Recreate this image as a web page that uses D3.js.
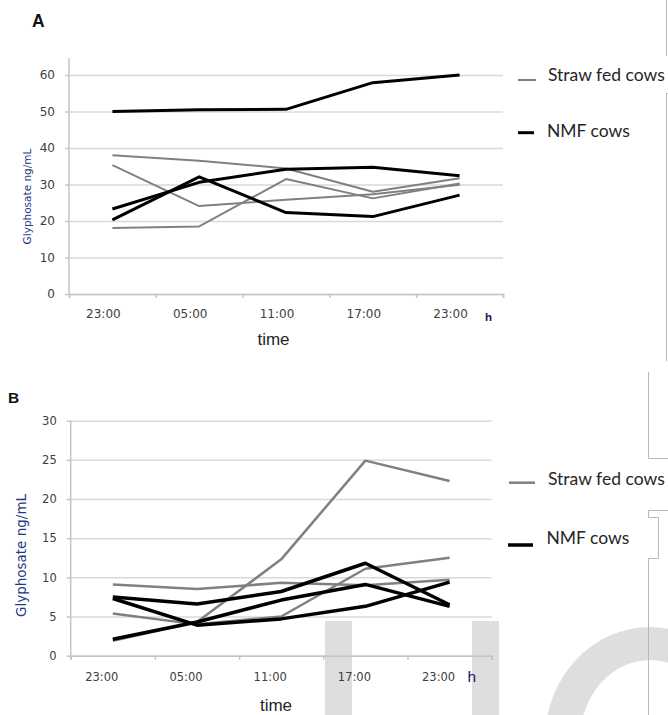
<!DOCTYPE html>
<html>
<head>
<meta charset="utf-8">
<script src="https://cdnjs.cloudflare.com/ajax/libs/d3/7.8.5/d3.min.js"></script>
<style>
	body { margin: 0; background: #fff; }
	svg { display: block; }
</style>
</head>
<body>
<svg id="chart" width="668" height="715"></svg>
<script>
// sampling times, shared by both panels
var timeLabels = ["23:00", "05:00", "11:00", "17:00", "23:00"];
var legendNames = ["Straw fed cows", "NMF cows"];

// panel A, glyphosate ng/mL
var ticksA = [0, 10, 20, 30, 40, 50, 60];
var strawA = [
	[38.0, 36.5, 34.4, 28.0, 31.7],
	[35.3, 24.1, 25.8, 27.3, 29.9],
	[18.1, 18.5, 31.5, 26.2, 30.3]
];
var nmfA = [
	[50.0, 50.5, 50.6, 57.9, 60.0],
	[23.3, 30.6, 34.2, 34.7, 32.4],
	[20.3, 32.1, 22.3, 21.2, 27.1]
];

// panel B, glyphosate ng/mL
var ticksB = [0, 5, 10, 15, 20, 25, 30];
var strawB = [
	[9.1, 8.5, 9.3, 9.0, 9.7],
	[5.4, 4.0, 5.0, 11.1, 12.5],
	[1.9, 4.3, 12.3, 24.9, 22.3]
];
var nmfB = [
	[7.5, 6.6, 8.2, 11.8, 6.5],
	[7.3, 3.9, 4.7, 6.3, 9.4],
	[2.1, 4.3, 7.1, 9.1, 6.3]
];

var svg = d3.select("#chart");

function ellipse(cx, cy, rx, ry) {
	return "M" + (cx - rx) + "," + cy +
		"a" + rx + "," + ry + " 0 1,0 " + (2 * rx) + ",0" +
		"a" + rx + "," + ry + " 0 1,0 " + (-2 * rx) + ",0Z";
}

// faint scan artefacts (watermark + page edges)
var wm = svg.append("g").attr("fill", "#dedede");
wm.append("rect").attr("x", 325).attr("y", 621).attr("width", 27).attr("height", 94);
wm.append("rect").attr("x", 472).attr("y", 621).attr("width", 27).attr("height", 94);
wm.append("path").attr("fill-rule", "evenodd")
	.attr("d", ellipse(650, 740, 105, 113) + ellipse(650, 740, 70, 80));

var edge = svg.append("g").attr("stroke", "#b8b8b8").attr("fill", "none").attr("stroke-width", 1);
edge.append("path").attr("d", "M666.5,0V56 M668,93.5H666.5V361");
edge.append("path").attr("d", "M648.5,372V458.5H668 M668,510.5H648.5V517.5H658.5V558.5H648.5V715");

function drawPanel(p) {
	var n = timeLabels.length;
	var x = d3.scaleBand().domain(d3.range(n)).range([p.x0, p.x1]);
	var xEdge = d3.scaleLinear().domain([0, n]).range([p.x0, p.x1]);
	var y = d3.scaleLinear().domain([0, p.yMax]).range([p.y0, p.y1]);
	var g = svg.append("g");

	// gridlines
	g.append("g")
		.attr("transform", "translate(" + p.x0 + ",0)")
		.call(d3.axisLeft(y).tickValues(p.ticks).tickSize(-(p.x1 - p.x0)).tickFormat(""))
		.call(function (a) {
			a.select(".domain").remove();
			a.selectAll("line").attr("stroke", "#d9d9d9").attr("stroke-width", 1.5);
		});

	// y axis
	var ya = g.append("g")
		.attr("transform", "translate(" + p.x0 + ",0)")
		.call(d3.axisLeft(y).tickValues(p.ticks).tickSize(4).tickPadding(p.yPad));
	ya.select(".domain").remove();
	ya.selectAll("line").attr("stroke", "#c4c4c4").attr("stroke-width", 1.5);
	ya.selectAll("text")
		.attr("font-family", "DejaVu Sans")
		.attr("font-size", p.tickFont)
		.attr("fill", "#404040");
	ya.append("line")
		.attr("y1", p.axisTop).attr("y2", p.y0)
		.attr("stroke", "#c4c4c4").attr("stroke-width", 1.5);

	// x axis, ticks between the categories
	var xa = g.append("g")
		.attr("transform", "translate(0," + p.y0 + ")")
		.call(d3.axisBottom(xEdge).ticks(n).tickSize(4).tickSizeOuter(4).tickFormat(""));
	xa.select(".domain").attr("stroke", "#c4c4c4").attr("stroke-width", 1.5);
	xa.selectAll("line").attr("stroke", "#c4c4c4").attr("stroke-width", 1.5);

	var xl = g.append("g")
		.attr("transform", "translate(0," + p.y0 + ")")
		.call(d3.axisBottom(x).tickSize(0).tickFormat(function (i) { return timeLabels[i]; }));
	xl.select(".domain").remove();
	xl.selectAll("text")
		.attr("y", p.xLabelY - p.y0)
		.attr("dy", "0.36em")
		.attr("dx", p.xLabelDx)
		.attr("font-family", "DejaVu Sans")
		.attr("font-size", p.tickFont)
		.attr("fill", "#404040");

	var line = d3.line()
		.x(function (d, i) { return x(i) + x.bandwidth() / 2; })
		.y(function (d) { return y(d); });

	g.selectAll(".straw")
		.data(p.straw)
		.enter().append("path")
		.attr("class", "straw")
		.attr("d", line)
		.attr("fill", "none")
		.attr("stroke", "#808080")
		.attr("stroke-width", p.grayW)
		.attr("stroke-linejoin", "round");

	g.selectAll(".nmf")
		.data(p.nmf)
		.enter().append("path")
		.attr("class", "nmf")
		.attr("d", line)
		.attr("fill", "none")
		.attr("stroke", "#000")
		.attr("stroke-width", p.blackW)
		.attr("stroke-linejoin", "round");

	// legend
	var leg = [
		{ name: legendNames[0], color: "#808080", w: p.grayW, ly: p.leg[0].ly, x1: p.leg[0].x1, x2: p.leg[0].x2, tx: p.leg[0].tx, ty: p.leg[0].ty },
		{ name: legendNames[1], color: "#000", w: p.blackW, ly: p.leg[1].ly, x1: p.leg[1].x1, x2: p.leg[1].x2, tx: p.leg[1].tx, ty: p.leg[1].ty }
	];
	var lg = g.selectAll(".leg").data(leg).enter().append("g").attr("class", "leg");
	lg.append("line")
		.attr("x1", function (d) { return d.x1; })
		.attr("x2", function (d) { return d.x2; })
		.attr("y1", function (d) { return d.ly; })
		.attr("y2", function (d) { return d.ly; })
		.attr("stroke", function (d) { return d.color; })
		.attr("stroke-width", function (d) { return d.w; });
	lg.append("text")
		.attr("x", function (d) { return d.tx; })
		.attr("y", function (d) { return d.ty; })
		.attr("font-family", "Lato")
		.attr("font-size", 17.5)
		.attr("fill", "#262626")
		.text(function (d) { return d.name; });

	// titles
	g.append("text")
		.attr("transform", "translate(" + p.yTitle[0] + "," + p.yTitle[1] + ") rotate(-90)")
		.attr("dy", "0.36em")
		.attr("text-anchor", "middle")
		.attr("font-family", "DejaVu Sans")
		.attr("font-size", p.yTitleFont)
		.attr("fill", "#1f3a86")
		.text("Glyphosate ng/mL");

	g.append("text")
		.attr("x", p.timeX).attr("y", p.timeY)
		.attr("text-anchor", "middle")
		.attr("font-family", "Liberation Sans")
		.attr("font-size", 17)
		.attr("fill", "#262626")
		.text("time");

	g.append("text")
		.attr("x", p.hX).attr("y", p.hY)
		.attr("font-family", "Liberation Sans")
		.attr("font-size", p.hFont)
		.attr("font-weight", p.hWeight)
		.attr("fill", "#16165e")
		.text("h");

	g.append("text")
		.attr("x", p.labX).attr("y", p.labY)
		.attr("font-family", "Liberation Sans")
		.attr("font-weight", "bold")
		.attr("font-size", p.labFont)
		.attr("fill", "#111")
		.text(p.label);
}

drawPanel({
	label: "A", labX: 32, labY: 27, labFont: 17.5,
	x0: 69, x1: 503, y0: 294, y1: 75, yMax: 60, axisTop: 58,
	ticks: ticksA, straw: strawA, nmf: nmfA,
	tickFont: 12, yPad: 10, xLabelY: 314, xLabelDx: -9,
	grayW: 2, blackW: 3,
	yTitle: [27, 196.5], yTitleFont: 10.5,
	timeX: 273.5, timeY: 345, hX: 485, hY: 320.5, hFont: 11.5, hWeight: "bold",
	leg: [
		{ x1: 518, x2: 536, ly: 80, tx: 548, ty: 80.7 },
		{ x1: 518, x2: 534, ly: 132.7, tx: 547, ty: 137 }
	]
});

drawPanel({
	label: "B", labX: 8, labY: 403, labFont: 15.5,
	x0: 70.7, x1: 491.7, y0: 655.7, y1: 420.7, yMax: 30, axisTop: 420.7,
	ticks: ticksB, straw: strawB, nmf: nmfB,
	tickFont: 11.5, yPad: 10, xLabelY: 676.7, xLabelDx: -11,
	grayW: 2.5, blackW: 3.5,
	yTitle: [21, 555.5], yTitleFont: 13.5,
	timeX: 276, timeY: 711, hX: 467.5, hY: 681.7, hFont: 15.5, hWeight: "normal",
	leg: [
		{ x1: 509, x2: 535, ly: 482.7, tx: 548, ty: 485 },
		{ x1: 508, x2: 533, ly: 545, tx: 546.5, ty: 544 }
	]
});
</script>
</body>
</html>
